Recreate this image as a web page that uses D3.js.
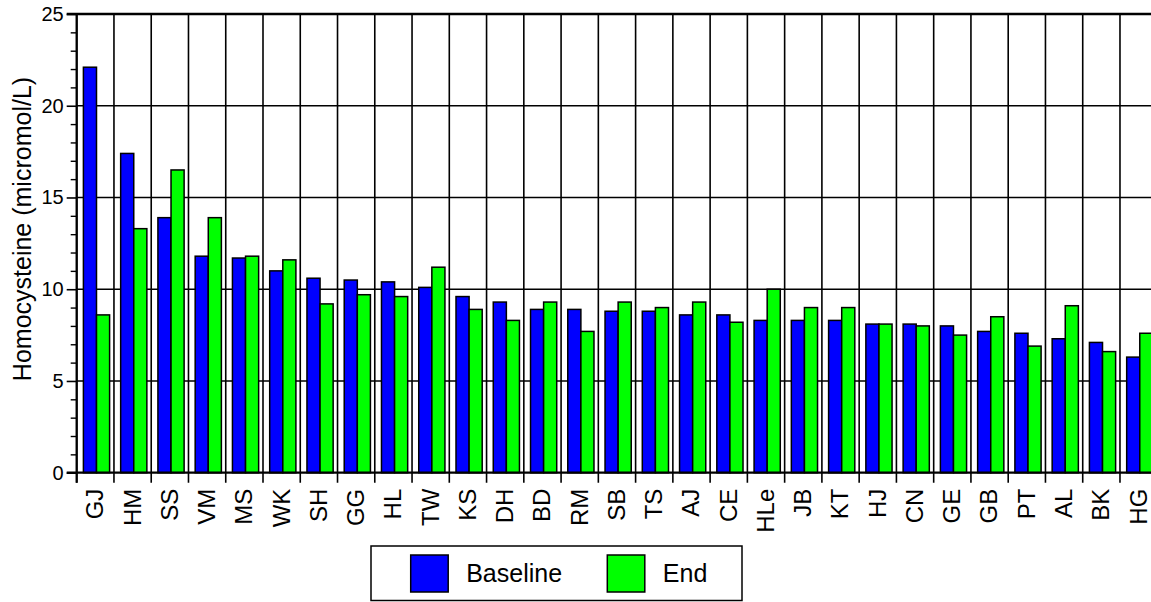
<!DOCTYPE html>
<html>
<head>
<meta charset="utf-8">
<script src="https://cdn.jsdelivr.net/npm/d3@7"></script>
<style>
  body { margin: 0; background: #fff; }
  svg { display: block; font-family: "Liberation Sans", Arial, sans-serif; }
</style>
</head>
<body>
<svg id="chart" width="1151" height="602"></svg>
<script>
// subjects, sorted by baseline value
var subjects = ["GJ", "HM", "SS", "VM", "MS", "WK", "SH", "GG", "HL", "TW", "KS", "DH", "BD", "RM",
	"SB", "TS", "AJ", "CE", "HLe", "JB", "KT", "HJ", "CN", "GE", "GB", "PT", "AL", "BK", "HG"];
var baseline = [22.1, 17.4, 13.9, 11.8, 11.7, 11.0, 10.6, 10.5, 10.4, 10.1, 9.6, 9.3, 8.9, 8.9,
	8.8, 8.8, 8.6, 8.6, 8.3, 8.3, 8.3, 8.1, 8.1, 8.0, 7.7, 7.6, 7.3, 7.1, 6.3];
var end = [8.6, 13.3, 16.5, 13.9, 11.8, 11.6, 9.2, 9.7, 9.6, 11.2, 8.9, 8.3, 9.3, 7.7,
	9.3, 9.0, 9.3, 8.2, 10.0, 9.0, 9.0, 8.1, 8.0, 7.5, 8.5, 6.9, 9.1, 6.6, 7.6];
var seriesNames = ["Baseline", "End"];
var seriesColors = ["#0000ff", "#00ff00"];
var yTicks = [0, 5, 10, 15, 20, 25];

var plotLeft = 76.7, plotTop = 14, plotBottom = 472.7, step = 37.26;
var plotRight = plotLeft + step * subjects.length; // runs past the picture edge

var svg = d3.select("#chart");

var x = d3.scaleBand().domain(subjects).range([plotLeft, plotRight]).padding(0);
var xs = d3.scaleBand().domain(seriesNames).range([6.7, 32.9]).padding(0);
var y = d3.scaleLinear().domain([0, 25]).range([plotBottom, plotTop]);

// horizontal grid
svg.append("g").selectAll("line")
	.data(yTicks.slice(1, -1))
	.enter().append("line")
		.attr("x1", plotLeft).attr("x2", plotRight)
		.attr("y1", function(d){ return y(d); }).attr("y2", function(d){ return y(d); })
		.attr("stroke", "#000").attr("stroke-width", 1.6);

// vertical grid + ticks under the axis
svg.append("g").selectAll("line")
	.data(d3.range(subjects.length + 1))
	.enter().append("line")
		.attr("x1", function(k){ return plotLeft + k * step; })
		.attr("x2", function(k){ return plotLeft + k * step; })
		.attr("y1", plotTop).attr("y2", plotBottom + 10)
		.attr("stroke", "#000").attr("stroke-width", 1.6);

// bars
var groups = svg.append("g").selectAll("g")
	.data(subjects)
	.enter().append("g")
		.attr("transform", function(d){ return "translate(" + x(d) + ",0)"; });

groups.selectAll("rect")
	.data(function(d, i){ return [baseline[i], end[i]]; })
	.enter().append("rect")
		.attr("x", function(v, j){ return xs(seriesNames[j]); })
		.attr("width", xs.bandwidth())
		.attr("y", function(v){ return y(v); })
		.attr("height", function(v){ return plotBottom - y(v); })
		.attr("fill", function(v, j){ return seriesColors[j]; })
		.attr("stroke", "#000").attr("stroke-width", 1.5);

// y axis
var yAxis = d3.axisLeft(y).tickValues(yTicks).tickSize(10).tickPadding(3);
var ya = svg.append("g").attr("transform", "translate(" + plotLeft + ",0)").call(yAxis);
ya.select(".domain").remove();
ya.selectAll("line").attr("stroke-width", 1.6);
ya.selectAll("text").style("font-size", "20px").attr("fill", "#000").attr("font-family", null);

var minor = d3.axisLeft(y).tickValues(d3.range(0, 26).filter(function(v){ return v % 5; }))
	.tickSize(6).tickFormat("");
var ym = svg.append("g").attr("transform", "translate(" + plotLeft + ",0)").call(minor);
ym.select(".domain").remove();
ym.selectAll("line").attr("stroke-width", 1.4);

svg.append("line").attr("x1", plotLeft).attr("x2", plotLeft).attr("y1", plotTop - 1).attr("y2", plotBottom + 10)
	.attr("stroke", "#000").attr("stroke-width", 2.2);
svg.append("line").attr("x1", plotLeft - 10).attr("x2", plotRight).attr("y1", plotBottom).attr("y2", plotBottom)
	.attr("stroke", "#000").attr("stroke-width", 2.2);
svg.append("line").attr("x1", plotLeft - 10).attr("x2", plotRight).attr("y1", plotTop).attr("y2", plotTop)
	.attr("stroke", "#000").attr("stroke-width", 2.4);

// category labels
svg.append("g").selectAll("text")
	.data(subjects)
	.enter().append("text")
		.attr("transform", function(d){ return "translate(" + (x(d) + step / 2) + "," + (plotBottom + 16) + ") rotate(-90)"; })
		.attr("dy", "0.33em")
		.attr("text-anchor", "end")
		.style("font-size", "24px")
		.text(function(d){ return d; });

// y title
svg.append("text")
	.attr("transform", "translate(31,229) rotate(-90)")
	.attr("text-anchor", "middle")
	.style("font-size", "25px")
	.text("Homocysteine (micromol/L)");

// legend
var lg = svg.append("g");
lg.append("rect").attr("x", 371).attr("y", 546).attr("width", 371).attr("height", 54.5)
	.attr("fill", "#fff").attr("stroke", "#000").attr("stroke-width", 1.5);
var items = lg.selectAll("g.item")
	.data(seriesNames)
	.enter().append("g")
		.attr("transform", function(d, i){ return "translate(" + [410.7, 607.3][i] + ",555)"; });
items.append("rect").attr("width", 37.5).attr("height", 37)
	.attr("fill", function(d, i){ return seriesColors[i]; })
	.attr("stroke", "#000").attr("stroke-width", 1.5);
items.append("text").attr("x", 55.5).attr("y", 27)
	.style("font-size", "25px")
	.text(function(d){ return d; });
</script>
</body>
</html>
